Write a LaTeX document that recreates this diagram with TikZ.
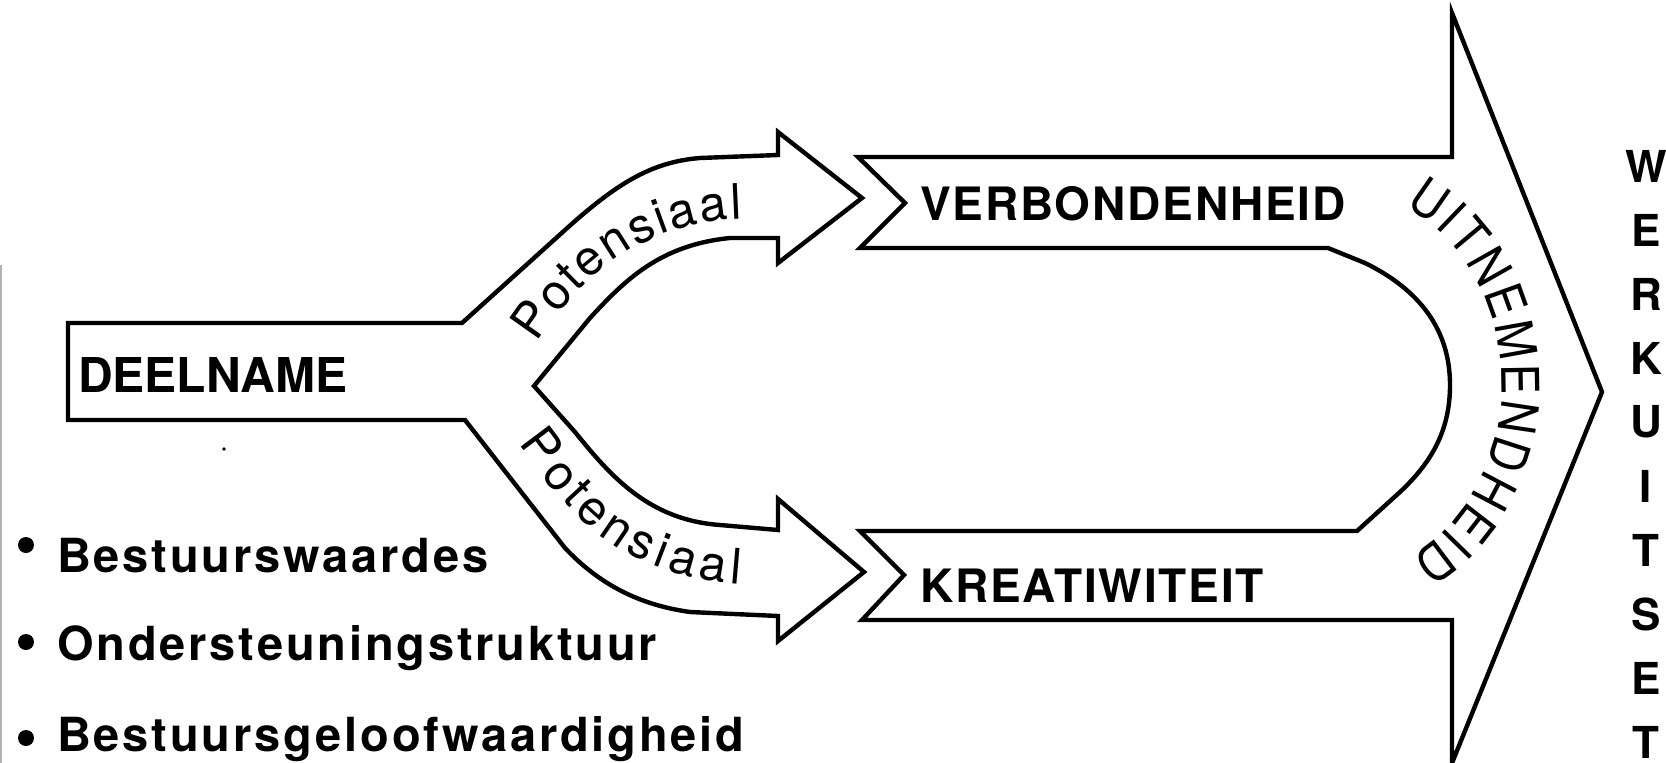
\documentclass[tikz,border=0pt]{standalone}
\usepackage{fontspec}
\setmainfont{TeX Gyre Heros}
\usetikzlibrary{decorations.text}

\begin{document}
\begin{tikzpicture}[x=1pt, y=-1pt,
  outline/.style={draw=black, line width=4.4pt, line join=miter},
  boxlabel/.style={anchor=base west, inner sep=0pt, font=\fontsize{48}{48}\selectfont\bfseries},
  bandlabel/.style={anchor=base west, inner sep=0pt, font=\fontsize{46}{46}\selectfont\bfseries\addfontfeature{LetterSpace=4}},
  itemlabel/.style={anchor=base west, inner sep=0pt, font=\fontsize{47}{47}\selectfont\bfseries\addfontfeature{LetterSpace=6}},
  bulletdot/.style={fill=black, circle, inner sep=0pt, minimum size=16pt},
  sidelabel/.style={anchor=center, inner sep=0pt, font=\fontsize{44}{44}\selectfont\bfseries},
  curvedtext/.style={decorate, decoration={text along path, text={|\fontsize{#1}{#1}\selectfont|Potensiaal}, text align={fit to path}}},
]
\useasboundingbox (0,0) rectangle (1666,763);

% edge of the scanned page
\draw[gray!60, line width=1.2pt] (1,265) -- (1,763);

% DEELNAME bar splitting into the two curved arrows
\draw[outline] (68,323) -- (462,323) -- (565,230)
  .. controls (615,185) and (650,162) .. (700,158) -- (778,155)
  -- (778,132) -- (862,198) -- (778,263) -- (778,238) -- (730,238)
  .. controls (660,245) and (625,280) .. (590,318) -- (534,386)
  -- (575,432) .. controls (612,478) and (650,520) .. (720,525) -- (778,530)
  -- (778,499) -- (864,572) -- (778,641) -- (778,616) -- (690,612)
  .. controls (640,605) and (600,585) .. (565,548) -- (465,420)
  -- (68,420) -- cycle;

% two bands joined by the loop, ending in the large arrow
\draw[outline] (858,157) -- (1452,157) -- (1452,13) -- (1602,392)
  -- (1452,763) -- (1452,620) -- (862,620) -- (904,575) -- (860,531)
  -- (1357,531) -- (1400,492) .. controls (1432,462) and (1450,430) .. (1450,385)
  .. controls (1450,330) and (1420,290) .. (1365,263) -- (1328,248)
  -- (860,248) -- (905,203) -- cycle;

% small speck below the bar
\fill (224,449) circle (1.8);

% labels
\node[boxlabel] (deelname) at (78,392) {DEELNAME};
\node[bandlabel] (verbond) at (920,220) {VERBONDENHEID};
\node[bandlabel] (kreat) at (920,602) {KREATIWITEIT};

% text following the curved arrows
\path[curvedtext=49] (537,343) .. controls (570,292) and (630,222) .. (742,219);
\path[curvedtext=49] (518,444) .. controls (555,490) and (600,574) .. (740,584);

% text following the loop
\path[decorate, decoration={text along path,
    text={|\fontsize{52}{52}\selectfont\addfontfeature{FakeStretch=0.88}|UITNEMENDHEID}, text align={fit to path}}]
  plot[domain=-64:62, samples=60] ({1330+172*cos(\x)}, {383+197*sin(\x)});

% vertical word at the right
\foreach \ch [count=\i from 0] in {W,E,R,K,U,I,T,S,E,T}
  \node[sidelabel] (werk\i) at (1646,166+64*\i) {\ch};

% bullet list
\node[bulletdot] (dot1) at (26,545) {};
\node[bulletdot] (dot2) at (26,642) {};
\node[bulletdot] (dot3) at (26,738) {};
\node[itemlabel] (item1) at (57,572) {Bestuurswaardes};
\node[itemlabel] (item2) at (57,660) {Ondersteuningstruktuur};
\node[itemlabel] (item3) at (57,751) {Bestuursgeloofwaardigheid};
\end{tikzpicture}
\end{document}
